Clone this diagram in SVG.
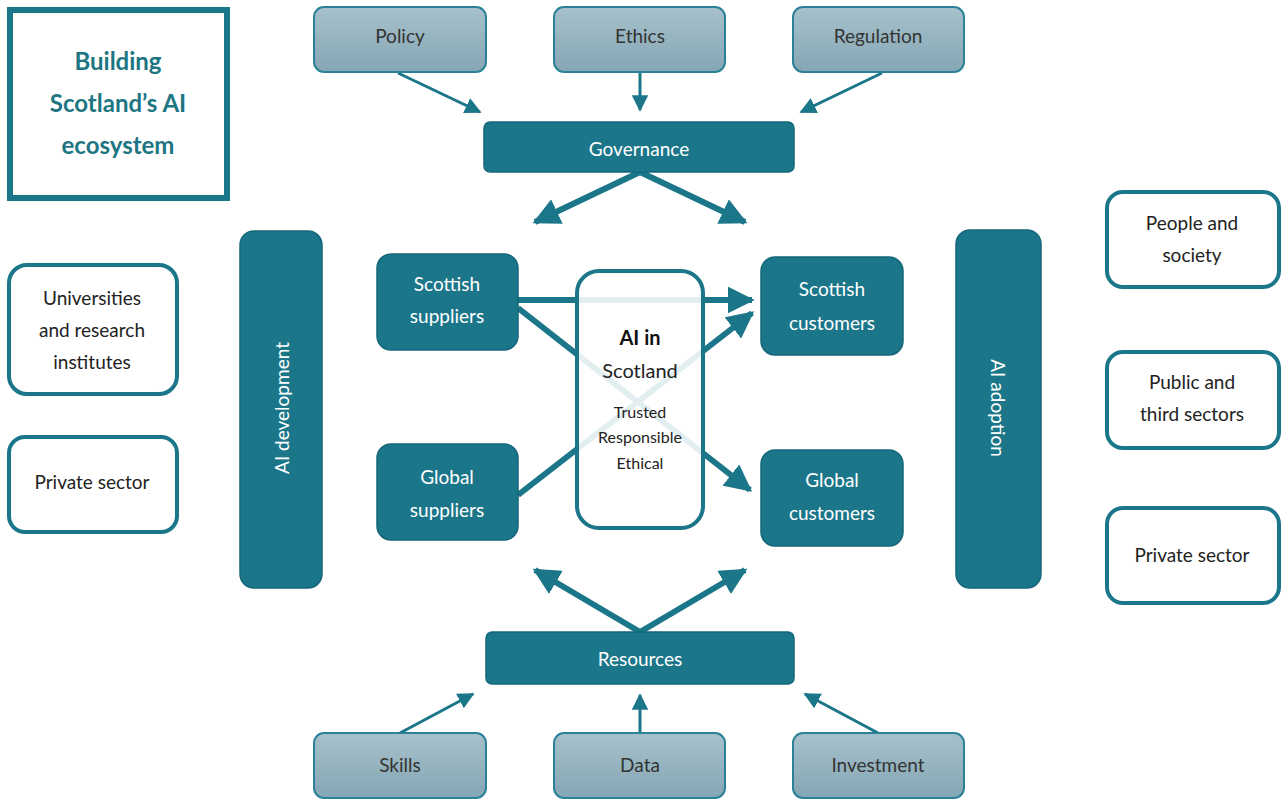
<svg xmlns="http://www.w3.org/2000/svg" width="1283" height="800" viewBox="0 0 1283 800">
<defs>
<linearGradient id="lg" x1="0" y1="0" x2="0" y2="1">
<stop offset="0" stop-color="#a6c1cb"/>
<stop offset="1" stop-color="#85a6b4"/>
</linearGradient>
<marker id="ah" viewBox="0 0 10 10" refX="9" refY="5" markerWidth="4.5" markerHeight="4.5" orient="auto" markerUnits="strokeWidth">
<path d="M0,0 L10,5 L0,10 z" fill="#1b768a"/>
</marker>
<marker id="ahs" viewBox="0 0 10 10" refX="9" refY="5" markerWidth="5.5" markerHeight="5.5" orient="auto" markerUnits="strokeWidth">
<path d="M0,0 L10,5 L0,10 z" fill="#1b768a"/>
</marker>
</defs>
<style>
text{font-family:"Lato","Open Sans","Liberation Sans",sans-serif;text-anchor:middle}
.light rect{fill:url(#lg);stroke:#2b8197;stroke-width:2}
.light text{fill:#333;font-size:19px}
.dark rect{fill:#1b768a;stroke:#16677a;stroke-width:1.5}
.dark text{fill:#fff;font-size:19px}
.white rect{fill:#fff;stroke:#1b768a;stroke-width:4}
.white text{fill:#222;font-size:19px}
.thin{stroke:#1b768a;stroke-width:3;fill:none}
.thick{stroke:#1b768a;stroke-width:6;fill:none}
</style>
<g id="title">
<rect x="10" y="10" width="217" height="188" fill="#fff" stroke="#1b768a" stroke-width="6"/>
<text x="118" y="70" font-size="24" font-weight="bold" fill="#1d7682">Building</text>
<text x="118" y="112" font-size="24" font-weight="bold" fill="#1d7682">Scotland’s AI</text>
<text x="118" y="154" font-size="24" font-weight="bold" fill="#1d7682">ecosystem</text>
</g>
<g id="connectors">
<line class="thin" x1="398" y1="73" x2="480" y2="112" marker-end="url(#ahs)"/>
<line class="thin" x1="640" y1="73" x2="640" y2="110" marker-end="url(#ahs)"/>
<line class="thin" x1="882" y1="73" x2="801" y2="112" marker-end="url(#ahs)"/>
<line class="thick" x1="640" y1="172" x2="535" y2="222" marker-end="url(#ah)"/>
<line class="thick" x1="640" y1="172" x2="745" y2="222" marker-end="url(#ah)"/>
<line class="thick" x1="518" y1="300" x2="752" y2="300" marker-end="url(#ah)"/>
<line class="thick" x1="518" y1="308" x2="750" y2="490" marker-end="url(#ah)"/>
<line class="thick" x1="518" y1="495" x2="752" y2="313" marker-end="url(#ah)"/>
<line class="thick" x1="640" y1="632" x2="535" y2="570" marker-end="url(#ah)"/>
<line class="thick" x1="640" y1="632" x2="745" y2="570" marker-end="url(#ah)"/>
<line class="thin" x1="400" y1="733" x2="473" y2="694" marker-end="url(#ahs)"/>
<line class="thin" x1="640" y1="733" x2="640" y2="695" marker-end="url(#ahs)"/>
<line class="thin" x1="878" y1="733" x2="805" y2="694" marker-end="url(#ahs)"/>
</g>
<g id="policy" class="light"><rect x="314" y="7" width="172" height="65" rx="10"/><text x="400" y="43">Policy</text></g>
<g id="ethics" class="light"><rect x="554" y="7" width="171" height="65" rx="10"/><text x="640" y="43">Ethics</text></g>
<g id="regulation" class="light"><rect x="793" y="7" width="171" height="65" rx="10"/><text x="878" y="43">Regulation</text></g>
<g id="governance" class="dark"><rect x="484" y="122" width="310" height="50" rx="6"/><text x="639" y="156" font-size="18">Governance</text></g>
<g id="ai-development" class="dark"><rect x="240" y="231" width="82" height="357" rx="14"/><text transform="translate(289,408) rotate(-90)" font-size="21">AI development</text></g>
<g id="ai-adoption" class="dark"><rect x="956" y="230" width="85" height="358" rx="14"/><text transform="translate(991,408) rotate(90)" font-size="21">AI adoption</text></g>
<g id="universities" class="white"><rect x="9" y="265" width="168" height="129" rx="18"/><text x="92" y="305">Universities</text><text x="92" y="337">and research</text><text x="92" y="369">institutes</text></g>
<g id="private-left" class="white"><rect x="9" y="437" width="168" height="95" rx="16"/><text x="92" y="489">Private sector</text></g>
<g id="people" class="white"><rect x="1107" y="192" width="172" height="95" rx="16"/><text x="1192" y="230">People and</text><text x="1192" y="262">society</text></g>
<g id="public" class="white"><rect x="1107" y="352" width="172" height="96" rx="16"/><text x="1192" y="389">Public and</text><text x="1192" y="421">third sectors</text></g>
<g id="private-right" class="white"><rect x="1107" y="508" width="172" height="95" rx="16"/><text x="1192" y="562">Private sector</text></g>
<g id="scottish-suppliers" class="dark"><rect x="377" y="254" width="141" height="96" rx="14"/><text x="447" y="291">Scottish</text><text x="447" y="323">suppliers</text></g>
<g id="global-suppliers" class="dark"><rect x="377" y="444" width="141" height="96" rx="14"/><text x="447" y="484">Global</text><text x="447" y="517">suppliers</text></g>
<g id="scottish-customers" class="dark"><rect x="761" y="257" width="142" height="98" rx="14"/><text x="832" y="296">Scottish</text><text x="832" y="330">customers</text></g>
<g id="global-customers" class="dark"><rect x="761" y="450" width="142" height="96" rx="14"/><text x="832" y="487">Global</text><text x="832" y="520">customers</text></g>
<g id="ai-in-scotland">
<rect x="577" y="271" width="126" height="257" rx="22" fill="#fff" fill-opacity="0.88" stroke="#1b768a" stroke-width="4"/>
<text x="640" y="345" font-size="20" font-weight="bold" fill="#111">AI in</text>
<text x="640" y="378" font-size="20" fill="#222">Scotland</text>
<text x="640" y="418" font-size="16" fill="#222">Trusted</text>
<text x="640" y="443" font-size="16" fill="#222">Responsible</text>
<text x="640" y="469" font-size="16" fill="#222">Ethical</text>
</g>
<g id="resources" class="dark"><rect x="486" y="632" width="308" height="52" rx="6"/><text x="640" y="666" font-size="18">Resources</text></g>
<g id="skills" class="light"><rect x="314" y="733" width="172" height="65" rx="10"/><text x="400" y="772">Skills</text></g>
<g id="data" class="light"><rect x="554" y="733" width="171" height="65" rx="10"/><text x="640" y="772">Data</text></g>
<g id="investment" class="light"><rect x="793" y="733" width="171" height="65" rx="10"/><text x="878" y="772">Investment</text></g>
</svg>
